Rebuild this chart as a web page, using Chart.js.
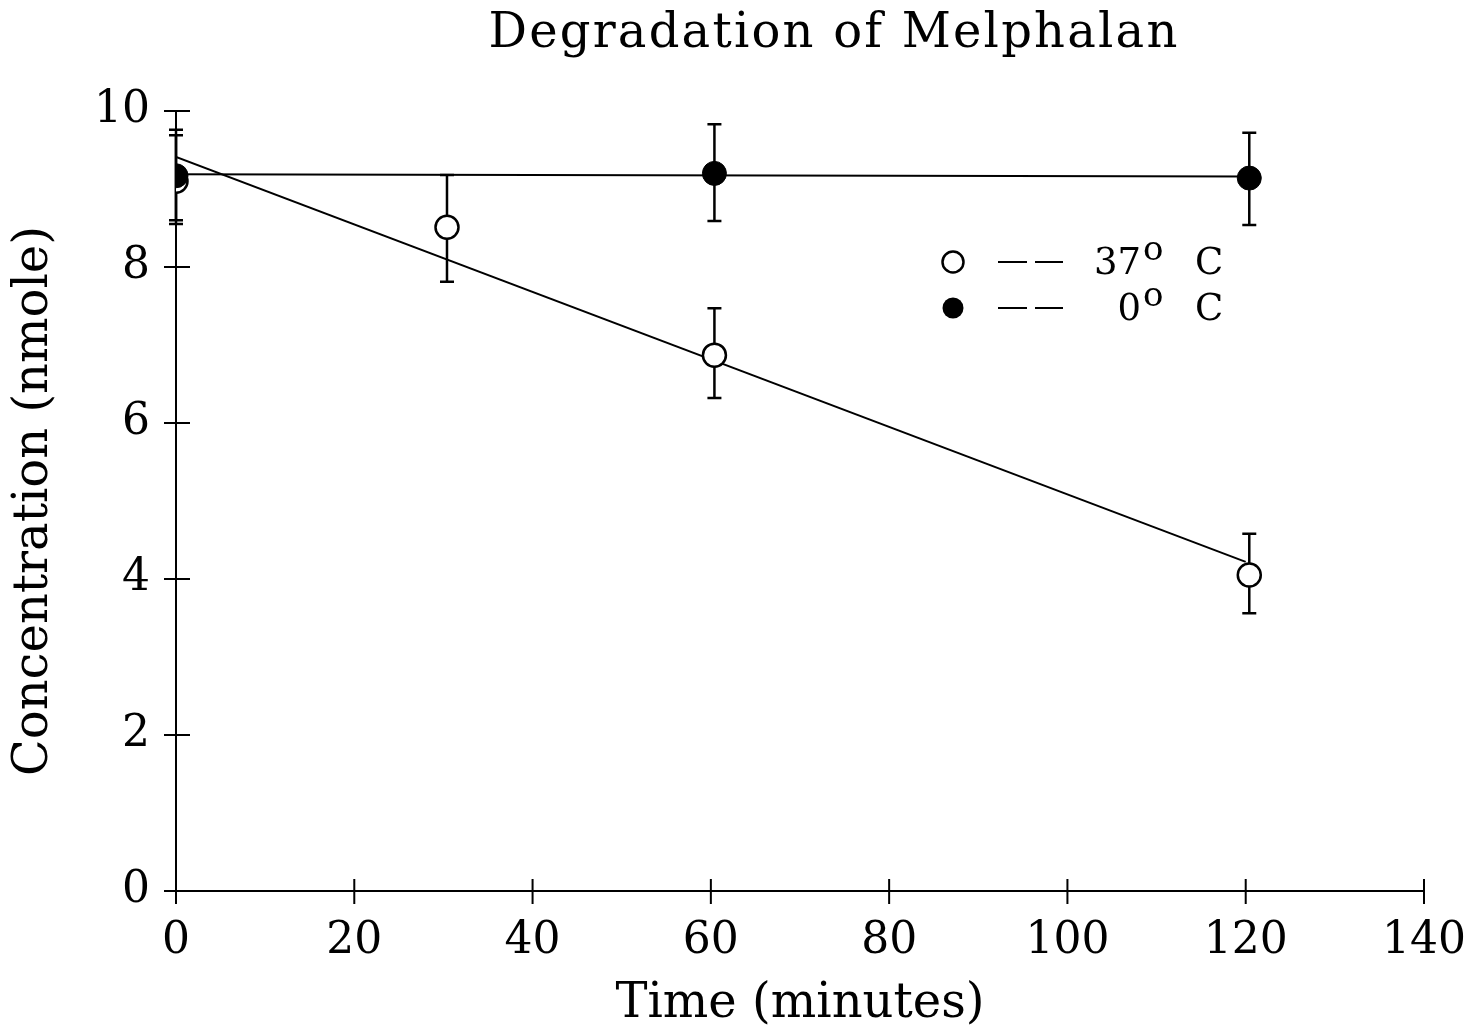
<!DOCTYPE html>
<html>
<head>
<meta charset="utf-8">
<title>Degradation of Melphalan</title>
<script src="https://cdn.jsdelivr.net/npm/chart.js@4.4.1/dist/chart.umd.min.js"></script>
<style>
  html, body { margin: 0; padding: 0; background: #fff; }
  #wrap { width: 1475px; height: 1033px; position: relative; }
</style>
</head>
<body>
<div id="wrap"><canvas id="chart"></canvas></div>
<script>
// --- data ---
const titleText = 'Degradation of Melphalan';
const xTitle = 'Time (minutes)';
const yTitle = 'Concentration (nmole)';

// 37 C (open circles)
const time37 = [0, 30.4, 60.4, 120.4];
const conc37 = [9.10, 8.51, 6.87, 4.05];
const low37 = [8.60, 7.81, 6.32, 3.56];
const high37 = [9.69, 9.18, 7.47, 4.58];
// fitted line 37 C
const fitTime37 = [0, 120];
const fitConc37 = [9.41, 4.22];

// 0 C (filled circles)
const time0 = [0, 60.4, 120.4];
const conc0 = [9.17, 9.20, 9.14];
const low0 = [8.55, 8.59, 8.54];
const high0 = [9.76, 9.83, 9.72];
// fitted line 0 C
const fitTime0 = [0, 120.4];
const fitConc0 = [9.19, 9.16];

const xTicks = [0, 20, 40, 60, 80, 100, 120, 140];
const yTicks = [0, 2, 4, 6, 8, 10];

const legendLabels = ['37', '0'];

const FONT = '"DejaVu Serif", "Liberation Serif", serif';

const toXY = (xs, ys) => xs.map((x, i) => ({ x: x, y: ys[i] }));

// error bars (vertical with caps), drawn under the points
const errorBars = {
    id: 'errorBars',
    beforeDatasetsDraw(chart) {
        const { ctx, scales: { x, y } } = chart;
        const sets = [[time37, low37, high37], [time0, low0, high0]];
        ctx.save();
        ctx.strokeStyle = '#000';
        ctx.lineWidth = 2.5;
        sets.forEach(([xs, lo, hi]) => {
            xs.forEach((t, i) => {
                const px = x.getPixelForValue(t);
                const y1 = y.getPixelForValue(lo[i]);
                const y2 = y.getPixelForValue(hi[i]);
                ctx.beginPath();
                ctx.moveTo(px, y1); ctx.lineTo(px, y2);
                ctx.moveTo(px - 7, y1); ctx.lineTo(px + 7, y1);
                ctx.moveTo(px - 7, y2); ctx.lineTo(px + 7, y2);
                ctx.stroke();
            });
        });
        ctx.restore();
    }
};

// tick marks crossing the axes + title + legend
const decorations = {
    id: 'decorations',
    afterDraw(chart) {
        const { ctx, scales: { x, y }, chartArea } = chart;
        ctx.save();
        ctx.strokeStyle = '#000';
        ctx.lineWidth = 2;
        ctx.beginPath();
        xTicks.forEach(v => {
            const px = x.getPixelForValue(v);
            ctx.moveTo(px, chartArea.bottom - 12);
            ctx.lineTo(px, chartArea.bottom + 13);
        });
        yTicks.forEach(v => {
            const py = y.getPixelForValue(v);
            ctx.moveTo(chartArea.left - 12, py);
            ctx.lineTo(chartArea.left + 14, py);
        });
        ctx.stroke();

        // title
        ctx.fillStyle = '#000';
        ctx.font = '48px ' + FONT;
        ctx.textAlign = 'center';
        ctx.textBaseline = 'middle';
        ctx.letterSpacing = '2.2px';
        ctx.fillText(titleText, 834, 35);
        ctx.letterSpacing = '0px';

        // legend
        const rows = [
            { y: 262, filled: false, label: legendLabels[0] },
            { y: 308, filled: true, label: legendLabels[1] }
        ];
        rows.forEach(r => {
            ctx.beginPath();
            ctx.arc(953, r.y, 10.5, 0, Math.PI * 2);
            ctx.lineWidth = 2.5;
            if (r.filled) { ctx.fill(); } else { ctx.stroke(); }
            ctx.lineWidth = 2;
            ctx.beginPath();
            ctx.moveTo(998, r.y); ctx.lineTo(1027, r.y);
            ctx.moveTo(1035, r.y); ctx.lineTo(1063, r.y);
            ctx.stroke();

            ctx.textAlign = 'right';
            ctx.textBaseline = 'alphabetic';
            ctx.font = '37px ' + FONT;
            ctx.fillText(r.label, 1141, r.y + 12);
            ctx.textAlign = 'left';
            ctx.font = '34px ' + FONT;
            ctx.fillText('o', 1143, r.y - 2);
            ctx.font = '37px ' + FONT;
            ctx.fillText('C', 1195, r.y + 12);
        });
        ctx.restore();
    }
};

new Chart(document.getElementById('chart'), {
    type: 'scatter',
    data: {
        datasets: [
            {
                label: '0° C',
                data: toXY(time0, conc0),
                pointStyle: 'circle',
                pointRadius: 12,
                pointBackgroundColor: '#000',
                pointBorderColor: '#000',
                pointBorderWidth: 1,
                showLine: false,
                order: 1
            },
            {
                label: '37° C',
                data: toXY(time37, conc37),
                pointStyle: 'circle',
                pointRadius: 11.5,
                pointBackgroundColor: '#fff',
                pointBorderColor: '#000',
                pointBorderWidth: 2.5,
                showLine: false,
                order: 2
            },
            {
                label: 'fit 0° C',
                data: toXY(fitTime0, fitConc0),
                showLine: true,
                borderColor: '#000',
                borderWidth: 2,
                pointRadius: 0,
                order: 3
            },
            {
                label: 'fit 37° C',
                data: toXY(fitTime37, fitConc37),
                showLine: true,
                borderColor: '#000',
                borderWidth: 2,
                pointRadius: 0,
                order: 4
            }
        ]
    },
    options: {
        responsive: true,
        maintainAspectRatio: false,
        animation: false,
        layout: { padding: { top: 111, right: 51, left: 0, bottom: 0 } },
        plugins: {
            legend: { display: false },
            title: { display: false },
            tooltip: { enabled: false }
        },
        scales: {
            x: {
                type: 'linear',
                min: 0,
                max: 140,
                afterFit: s => { s.height = 142; s.paddingLeft = 0; s.paddingRight = 0; },
                afterBuildTicks: s => { s.ticks = xTicks.map(v => ({ value: v })); },
                ticks: { color: '#000', padding: 24, font: { family: FONT, size: 44 } },
                grid: { display: false, drawTicks: false },
                border: { display: true, color: '#000', width: 2 },
                title: { display: true, text: xTitle, color: '#000', font: { family: FONT, size: 48 }, padding: { top: 0, bottom: 0 } }
            },
            y: {
                type: 'linear',
                min: 0,
                max: 10,
                afterFit: s => { s.width = 176; s.paddingTop = 0; s.paddingBottom = 0; },
                afterBuildTicks: s => { s.ticks = yTicks.map(v => ({ value: v })); },
                ticks: { color: '#000', padding: 26, font: { family: FONT, size: 44 } },
                grid: { display: false, drawTicks: false },
                border: { display: true, color: '#000', width: 2 },
                title: { display: true, text: yTitle, color: '#000', font: { family: FONT, size: 48 }, padding: { top: 6, bottom: 0 } }
            }
        }
    },
    plugins: [errorBars, decorations]
});
</script>
</body>
</html>
